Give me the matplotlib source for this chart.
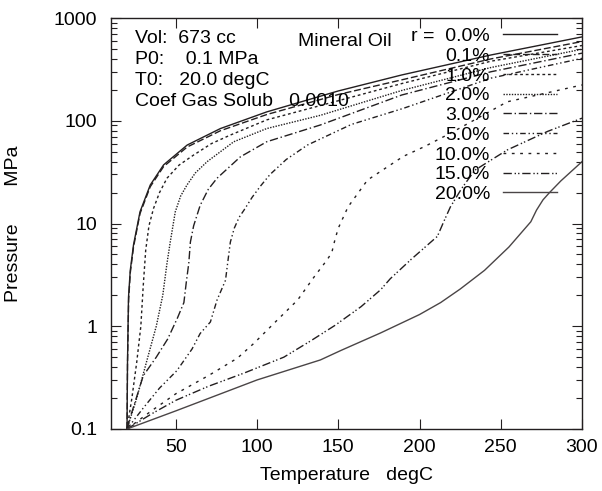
import numpy as np
import matplotlib
matplotlib.use('Agg')
import matplotlib.pyplot as plt
from matplotlib.ticker import FixedLocator, FixedFormatter, LogLocator, NullFormatter

plt.rcParams['font.family'] = ['Liberation Sans', 'DejaVu Sans']

# values (T in degC, P in MPa)
r_labels = ['r =  0.0%', '0.1%', '1.0%', '2.0%', '3.0%', '5.0%', '10.0%', '15.0%', '20.0%']

t_00 = [20, 20.3, 20.9, 22, 24, 28, 34.3, 42.5, 57, 77.5, 106, 150, 189, 244, 300]
p_00 = [0.1, 0.45, 1.9, 3.5, 6.2, 13, 23.7, 37.2, 58, 84, 122, 195, 279, 437, 655]

t_01 = [20, 20.3, 21, 22, 24, 28, 34.3, 42.5, 57, 77.5, 106, 150, 189, 244, 300]
p_01 = [0.1, 0.43, 1.8, 3.3, 5.9, 12.5, 22.8, 35.8, 55.5, 80, 115, 180, 250, 400, 590]

t_1 = [20, 23, 26, 28.5, 30, 31.5, 33.5, 36.3, 40, 44.6, 52, 61, 72, 83.6, 106, 140, 189, 244, 300]
p_1 = [0.1, 0.2, 0.45, 1, 2.5, 5.5, 9.5, 14, 20, 27.6, 37, 46.4, 60, 72.6, 102, 142, 230, 380, 540]

t_2 = [20, 26, 32, 38, 42, 44.5, 46.6, 49.7, 53, 56.9, 62, 69.3, 85.7, 106, 139, 189, 244, 300]
p_2 = [0.1, 0.2, 0.45, 1, 2, 4, 6.6, 13, 18.5, 23.7, 31, 40, 62.5, 84, 113, 197, 330, 497]

t_3 = [20, 22, 30, 38, 45, 51, 55, 56.5, 58, 59, 61, 65, 70, 75.4, 89.8, 106, 139, 189, 244, 300]
p_3 = [0.1, 0.13, 0.33, 0.5, 0.75, 1.2, 1.7, 2.7, 4.1, 6.6, 9.5, 15, 21.5, 27.6, 44.6, 62.5, 91, 178, 300, 455]

t_5 = [20, 30, 40, 50.7, 60, 65, 71.3, 75.4, 80.6, 82, 83.6, 86, 89, 92, 97, 102, 108, 118, 131, 158, 190, 244, 300]
p_5 = [0.1, 0.16, 0.25, 0.37, 0.6, 0.85, 1.1, 1.8, 2.8, 4.2, 6.6, 9, 11.5, 13.5, 18, 23, 30, 42, 58, 92, 132, 260, 405]

t_10 = [20, 35, 50, 70, 88, 98, 112.5, 125, 135, 143, 146, 148, 150, 156, 168, 190, 203, 219, 254, 300]
p_10 = [0.1, 0.15, 0.22, 0.33, 0.49, 0.68, 1.15, 1.8, 3.0, 4.4, 5.2, 7, 9, 14.5, 26.5, 45, 56, 75.6, 153, 223]

t_15 = [20, 35, 50, 70, 92, 116.5, 133, 148, 164, 176, 182, 195, 211, 215, 219, 226, 234, 254, 279, 300]
p_15 = [0.1, 0.14, 0.19, 0.26, 0.35, 0.5, 0.72, 1.02, 1.55, 2.26, 2.9, 4.5, 7.5, 10.5, 14.5, 22, 33, 52, 79, 106]

t_20 = [20, 50, 100, 139, 151.5, 176, 200, 213, 225, 240, 255, 268.5, 272, 276, 280, 287, 300]
p_20 = [0.1, 0.15, 0.3, 0.47, 0.58, 0.86, 1.3, 1.7, 2.3, 3.5, 5.9, 10.4, 13.5, 17, 20, 26, 40]

temps = [t_00, t_01, t_1, t_2, t_3, t_5, t_10, t_15, t_20]
press = [p_00, p_01, p_1, p_2, p_3, p_5, p_10, p_15, p_20]

dashes = [None, (5, 2), (2, 2), (1, 1), (6, 2, 1, 2), (4, 2, 1, 2, 1, 2),
          (2, 4), (6, 2, 1, 1.5, 1, 2), None]
colors = ['#231f20'] * 8 + ['#4a4546']

fig = plt.figure(figsize=(6.02, 4.91), dpi=100)
ax = fig.add_axes([0.184, 0.1263, 0.7828, 0.837])

for t, p, lab, d, c in zip(temps, press, r_labels, dashes, colors):
    line, = ax.plot(t, p, color=c, lw=1.0, label=lab)
    if d is not None:
        line.set_dashes(d)

ax.set_yscale('log')
ax.set_xlim(10, 300)
ax.set_ylim(0.1, 1000)

ax.xaxis.set_major_locator(FixedLocator([50, 100, 150, 200, 250, 300]))
ax.yaxis.set_major_locator(FixedLocator([0.1, 1, 10, 100, 1000]))
ax.yaxis.set_major_formatter(FixedFormatter(['0.1', '1', '10', '100', '1000']))
ax.yaxis.set_minor_locator(LogLocator(base=10, subs=np.arange(2, 10)))
ax.yaxis.set_minor_formatter(NullFormatter())

ax.tick_params(which='both', direction='in', top=True, right=True, labelsize=14,
               color='#231f20', width=0.8)
ax.tick_params(which='major', length=7)
ax.tick_params(axis='x', which='major', pad=7)
ax.tick_params(axis='y', which='major', pad=10)
ax.tick_params(which='minor', length=4)
for s in ax.spines.values():
    s.set_linewidth(1.0)
    s.set_color('#231f20')

ax.set_xlabel('Temperature   degC', fontsize=14)
ax.xaxis.set_label_coords(0.5, -0.093)
ax.set_ylabel('Pressure       MPa', fontsize=14)
ax.yaxis.set_label_coords(-0.188, 0.5)

info = ['Vol:  673 cc', 'P0:    0.1 MPa', 'T0:   20.0 degC', 'Coef Gas Solub   0.0010']
for i, s in enumerate(info):
    ax.text(0.051, 0.949 - i * 0.051, s, transform=ax.transAxes, fontsize=14,
            va='center', ha='left')
ax.text(0.398, 0.942, 'Mineral Oil', transform=ax.transAxes, fontsize=14,
        va='center', ha='left')

ax.legend(loc='upper right', bbox_to_anchor=(0.947, 0.977), frameon=False,
          markerfirst=False, fontsize=14, handlelength=2.8, handletextpad=0.65,
          labelspacing=0.11, borderpad=0, borderaxespad=0)

fig.savefig('out.png', dpi=100)
